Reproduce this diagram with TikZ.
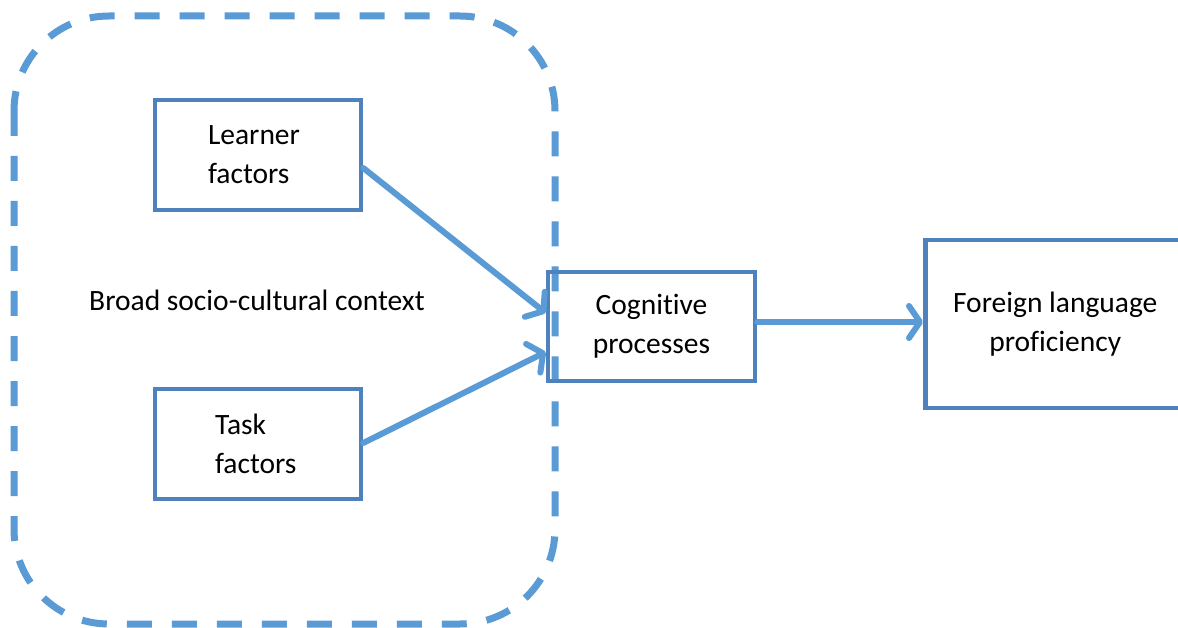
\documentclass[tikz,border=0pt]{standalone}
\usepackage{fontspec}
\setmainfont{Carlito}[Ligatures={NoCommon}]
\usetikzlibrary{arrows.meta}
\definecolor{boxblue}{HTML}{4F81BD}
\definecolor{lineblue}{HTML}{5B9BD5}
\tikzset{
  factorbox/.style={draw=boxblue, line width=4.5pt, minimum width=206pt, minimum height=110pt, inner sep=0pt, text width=100pt, align=left},
  mainbox/.style={draw=boxblue, line width=4.5pt, inner sep=0pt, align=center},
  flow/.style={draw=lineblue, line width=6pt, line cap=round, -{Straight Barb[length=11pt,width=32pt,round]}},
  txt/.style={font=\fontsize{29.5}{39}\selectfont}
}
\begin{document}
\begin{tikzpicture}[x=1pt,y=-1pt,txt]
\clip (0,0) rectangle (1178,628);
\fill[white] (0,0) rectangle (1178,628);
\draw[lineblue, line width=7pt, dash pattern=on 25pt off 20pt, rounded corners=95pt] (14,16) rectangle (555,624);
\node[factorbox] (learner) at (258,155) {Learner\\factors};
\node[factorbox] (task) at (258,444) {\hspace*{7pt}Task\\\hspace*{7pt}factors};
\node[mainbox, minimum width=207pt, minimum height=109pt] (cog) at (651.5,326.5) {Cognitive\\processes};
\node[mainbox, minimum width=260pt, minimum height=168pt, anchor=west] (flp) at (923,324) {Foreign language\\proficiency};
\node (ctx) at (257,300) {Broad socio-cultural context};
\draw[flow] (learner.east |- 0,168) -- (cog.west |- 0,313);
\draw[flow] (task.east |- 0,443) -- (cog.west |- 0,352);
\draw[flow] (cog.east |- 0,322) -- (flp.west |- 0,322);
\end{tikzpicture}
\end{document}
